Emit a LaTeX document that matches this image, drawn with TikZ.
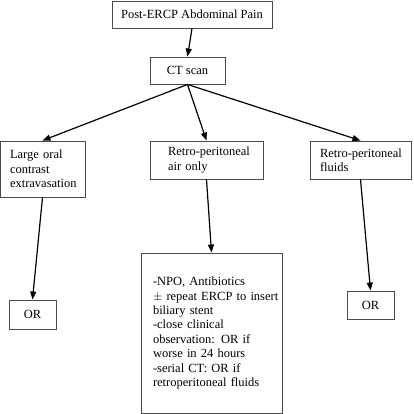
\documentclass[tikz,border=0pt]{standalone}
\usepackage{fontspec}
\setmainfont{Liberation Serif}
\usetikzlibrary{arrows.meta}
\newcommand{\lineb}[1]{\mbox{#1}}
\begin{document}
\begin{tikzpicture}[x=1pt,y=-1pt,
  box/.style={draw=black!70,line width=0.9pt,rectangle,font=\fontsize{12.5}{14.4}\selectfont,align=left,inner ysep=0pt},
  arr/.style={draw=black,line width=1.2pt,-{Triangle[length=8pt,width=6pt]}}]
\useasboundingbox (0,0) rectangle (413,414);
\node[box,minimum width=160pt,minimum height=27pt,align=center] (pain) at (192,14.5) {Post-ERCP Abdominal Pain};
\node[box,minimum width=75pt,minimum height=27pt,align=center] (ct) at (187.5,70.5) {CT scan};
\node[box,text width=65pt,inner xsep=10pt,minimum height=56pt] (large) at (42.5,169) {\lineb{Large oral}\\\lineb{contrast}\\\lineb{extravasation}};
\node[box,text width=77pt,inner xsep=18pt,minimum height=38pt] (air) at (206.5,160) {\lineb{Retro-peritoneal}\\\lineb{air only}};
\node[box,text width=81pt,inner xsep=10pt,minimum height=38pt] (fluid) at (360.5,160) {\lineb{Retro-peritoneal}\\\lineb{fluids}};
\node[box,minimum width=47pt,minimum height=29pt,align=center] (orl) at (32.5,314.5) {OR};
\node[box,text width=117pt,inner xsep=12pt,minimum height=160pt] (mid) at (211.5,333) {\lineb{-NPO, Antibiotics}\\\lineb{$\pm$ repeat ERCP to insert}\\\lineb{biliary stent}\\\lineb{-close clinical}\\\lineb{observation: OR if}\\\lineb{worse in 24 hours}\\\lineb{-serial CT: OR if}\\\lineb{retroperitoneal fluids}\\[14pt]};
\node[box,minimum width=47pt,minimum height=28pt,align=center] (orr) at (370.5,305) {OR};
\draw[arr] (pain.south) -- (ct.north);
\draw[arr] (ct.south) -- (large.north);
\draw[arr] (ct.south) -- (air.north);
\draw[arr] (ct.south) -- (fluid.north);
\draw[arr] (large.south) -- (orl.north);
\draw[arr] (air.south) -- (mid.north);
\draw[arr] (fluid.south) -- (orr.north);
\end{tikzpicture}
\end{document}
